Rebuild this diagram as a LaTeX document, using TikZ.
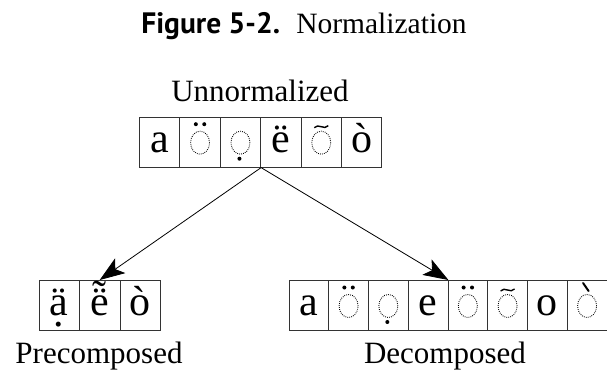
\documentclass[tikz,border=0pt]{standalone}
\usepackage{fontspec}
\setmainfont{Liberation Serif}
\newfontfamily\titlesans{PT Sans}
\usetikzlibrary{arrows.meta}

\newcommand{\dotunder}[1]{\ooalign{#1\cr\hidewidth\raisebox{-0.26em}{.}\hidewidth\cr}}
\newcommand{\tildeover}[1]{\ooalign{#1\cr\hidewidth\raisebox{0.15em}{\symbol{"02DC}}\hidewidth\cr}}

\tikzset{
  cell/.style={draw=black!80, line width=0.9pt, inner sep=0pt, minimum width=#1,
    text height=35pt, text depth=15pt, anchor=north west, font=\fontsize{42}{44}\selectfont},
  cell/.default=40.4pt,
  caption/.style={anchor=base, inner sep=0pt, font=\fontsize{31}{34}\selectfont},
  ring/.style={line width=0.9pt, black, dash pattern=on 0.8pt off 1.2pt},
  markfill/.style={fill=black},
  splitarrow/.style={line width=0.8pt, -{Stealth[length=25pt,width=18pt,inset=6pt]}}
}
\newcommand{\ringat}[1]{\draw[ring] ([yshift=-26pt]#1.north) ellipse [x radius=9.5pt, y radius=11.5pt];}
\newcommand{\umlautat}[1]{\fill[markfill] ([xshift=-4.2pt,yshift=-7.5pt]#1.north) circle (2pt) ([xshift=4.2pt,yshift=-7.5pt]#1.north) circle (2pt);}
\newcommand{\dotbelowat}[1]{\fill[markfill] ([xshift=-1pt,yshift=-42pt]#1.north) circle (2pt);}
\newcommand{\tildeat}[1]{\draw[line width=1.4pt] ([xshift=-7pt,yshift=-11pt]#1.north) .. controls +(4,-5) and +(-4,5) .. ([xshift=7pt,yshift=-9pt]#1.north);}
\newcommand{\graveat}[1]{\draw[line width=2pt, line cap=round] ([xshift=-4pt,yshift=-3pt]#1.north) -- ([xshift=1.5pt,yshift=-11pt]#1.north);}

\begin{document}
\begin{tikzpicture}[x=1pt,y=-1pt]
  \useasboundingbox (0,0) rectangle (607,373);
  \node[anchor=base, inner sep=0pt, font=\fontsize{29.5}{32}\selectfont] (title) at (304,33)
    {{\titlesans\bfseries Figure 5-2.}\hspace{0.55em}Normalization};

  % unnormalized string
  \node[caption] (unnorm) at (260,101) {Unnormalized};
  \foreach \ch [count=\i from 0] in {a,{},{},\"e,{},\`o}
    \node[cell] (u\i) at ({139+40.4*\i},116.7) {\ch};

  % precomposed and decomposed forms
  \foreach \ch [count=\i from 0] in {{\dotunder{\"a}},{\tildeover{\"e}},\`o}
    \node[cell=40.5pt] (p\i) at ({38.5+40.5*\i},280) {\ch};
  \foreach \ch [count=\i from 0] in {a,{},{},e,{},{},o,{}}
    \node[cell=39.75pt] (d\i) at ({288.5+39.75*\i},280) {\ch};
  \node[caption] (precomp) at (99,363) {Precomposed};
  \node[caption] (decomp) at (445,363) {Decomposed};

  % combining marks on dotted circles
  \foreach \n in {u1,u2,u4,d1,d2,d4,d5,d7} {\ringat{\n}}
  \foreach \n in {u1,d1,d4} {\umlautat{\n}}
  \foreach \n in {u2,d2} {\dotbelowat{\n}}
  \foreach \n in {u4,d5} {\tildeat{\n}}
  \graveat{d7}

  \coordinate (split) at (u2.south east);
  \draw[splitarrow] (split) -- (p1.north);
  \draw[splitarrow] (split) -- (d3.north east);
\end{tikzpicture}
\end{document}
